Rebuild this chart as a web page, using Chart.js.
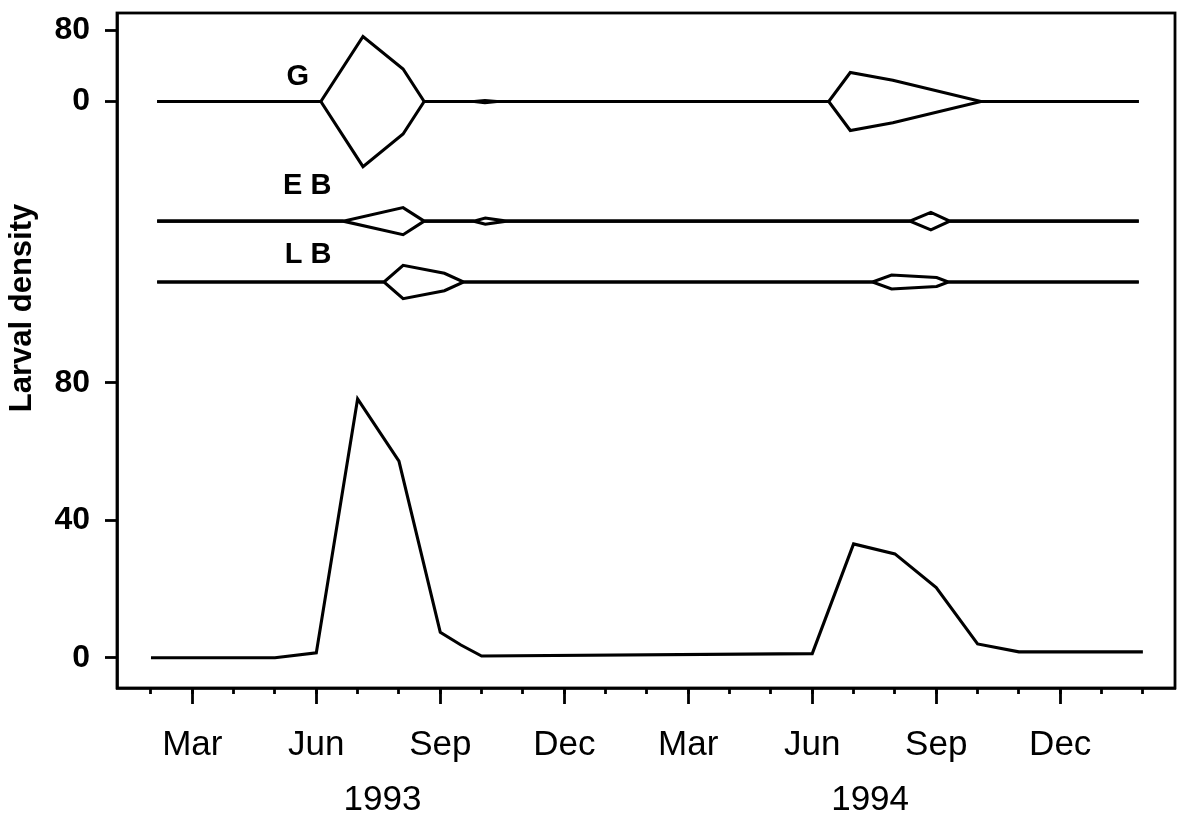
<!DOCTYPE html>
<html>
<head>
<meta charset="utf-8">
<script src="https://cdn.jsdelivr.net/npm/chart.js@4.4.1/dist/chart.umd.min.js"></script>
<style>
html,body{margin:0;padding:0;background:#fff;}
canvas{display:block;}
</style>
</head>
<body>
<canvas id="c" width="1179" height="825"></canvas>
<script>
// x values are months counted from January 1993 (= 0)

// Bottom panel: larval density line
const totalMonths = [1, 4, 5, 6, 7, 8, 8.5, 9, 17, 18, 19, 20, 21, 22, 25];
const totalValues = [0, 0, 1.4, 75.3, 57.2, 7.4, 3.7, 0.5, 1.2, 33.1, 30.2, 20.4, 4.0, 1.7, 1.7];

// Kite diagrams (half-width in density units)
const gMonths  = [1.15, 5.11, 6.13, 7.10, 7.61, 8.82, 9.08, 9.37, 17.40, 17.92, 18.95, 21.08, 24.9];
const gValues  = [0,    0,    73,   36.5, 0,    0,    1.2,  0,    0,     32.5,  23.8,  0,     0];

const ebMonths = [1.15, 5.65, 7.10, 7.61, 8.81, 9.09, 9.60, 19.36, 19.87, 20.33, 24.9];
const ebValues = [0,    0,    15.2, 0,    0,    3.5,  0,    0,     9.8,   0,     0];

const lbMonths = [1.15, 6.64, 7.10, 8.10, 8.56, 18.46, 18.92, 20.01, 20.29, 24.9];
const lbValues = [0,    0,    18.7, 9.8,  0,    0,     7.9,   5.0,   0,     0];

// Axis ticks and labels
const majorTickMonths = [2, 5, 8, 11, 14, 17, 20, 23];
const monthLabels = ['Mar', 'Jun', 'Sep', 'Dec', 'Mar', 'Jun', 'Sep', 'Dec'];
const minorTickMonths = [1,2,3,4,5,6,7,8,9,10,11,12,13,14,15,16,17,18,19,20,21,22,23,24,25];
const yearLabels = ['1993', '1994'];
const yearCentres = [6.6, 18.4];
const lowerTicks = [0, 40, 80];
const kiteTicks = [0, 80];
const kiteNames = ['G', 'E B', 'L B'];
const yTitle = 'Larval density';

// ---- layout constants (not data) ----
const KITE_SCALE = 0.2593;               // bottom-axis units per kite unit
const KITE_BASE = [161.8, 127.0, 109.3]; // G, EB, LB baselines in bottom-axis units
const KITE_LABEL_POS = [{x: 4.55, y: 169.0}, {x: 4.78, y: 137.1}, {x: 4.80, y: 117.1}];
const X_MIN = 0.178, X_MAX = 25.777;
const Y_MIN = -8.81, Y_MAX = 187.55;
const FONT = "'Liberation Sans', Arial, Helvetica, sans-serif";
const LW = 3.1;

const yTickValues = lowerTicks.concat(kiteTicks.map(t => KITE_BASE[0] + t * KITE_SCALE));
const yTickLabels = lowerTicks.concat(kiteTicks).map(String);

function pts(months, values) { return months.map((m, i) => ({x: m, y: values[i]})); }
function kite(months, values, base, sign) {
  return months.map((m, i) => ({x: m, y: base + sign * values[i] * KITE_SCALE}));
}

const lineStyle = {borderColor: '#000', borderWidth: LW, pointRadius: 0, tension: 0, fill: false, borderJoinStyle: 'miter'};

const datasets = [
  Object.assign({label: 'total', data: pts(totalMonths, totalValues)}, lineStyle),
  Object.assign({label: 'G+', data: kite(gMonths, gValues, KITE_BASE[0], 1)}, lineStyle),
  Object.assign({label: 'G-', data: kite(gMonths, gValues, KITE_BASE[0], -1)}, lineStyle),
  Object.assign({label: 'EB+', data: kite(ebMonths, ebValues, KITE_BASE[1], 1)}, lineStyle),
  Object.assign({label: 'EB-', data: kite(ebMonths, ebValues, KITE_BASE[1], -1)}, lineStyle),
  Object.assign({label: 'LB+', data: kite(lbMonths, lbValues, KITE_BASE[2], 1)}, lineStyle),
  Object.assign({label: 'LB-', data: kite(lbMonths, lbValues, KITE_BASE[2], -1)}, lineStyle)
];

const textPlugin = {
  id: 'texts',
  afterDraw(chart) {
    const ctx = chart.ctx, xs = chart.scales.x, ys = chart.scales.y, a = chart.chartArea;
    ctx.save();
    // frame
    ctx.strokeStyle = '#000';
    ctx.lineWidth = 2.8;
    ctx.strokeRect(a.left, a.top, a.right - a.left, a.bottom - a.top);
    ctx.fillStyle = '#000';
    ctx.textAlign = 'center';
    ctx.textBaseline = 'middle';
    // kite labels
    ctx.font = 'bold 29px ' + FONT;
    kiteNames.forEach((n, i) => {
      ctx.fillText(n, xs.getPixelForValue(KITE_LABEL_POS[i].x), ys.getPixelForValue(KITE_LABEL_POS[i].y));
    });
    // year labels
    ctx.font = '35px ' + FONT;
    yearLabels.forEach((t, i) => {
      ctx.fillText(t, xs.getPixelForValue(yearCentres[i]), 800);
    });
    // y title
    ctx.font = 'bold 31px ' + FONT;
    ctx.translate(22.5, 308);
    ctx.rotate(-Math.PI / 2);
    ctx.fillText(yTitle, 0, 0);
    ctx.restore();
  }
};

new Chart(document.getElementById('c'), {
  type: 'line',
  data: {datasets},
  plugins: [textPlugin],
  options: {
    responsive: false,
    animation: false,
    devicePixelRatio: 1,
    layout: {padding: {left: 0, top: 13, right: 4, bottom: 0}},
    plugins: {legend: {display: false}, tooltip: {enabled: false}},
    scales: {
      x: {
        type: 'linear', position: 'bottom', weight: 1, min: X_MIN, max: X_MAX,
        afterBuildTicks(s) { s.ticks = majorTickMonths.map(v => ({value: v})); },
        ticks: {callback: (v, i) => monthLabels[i], font: {family: FONT, size: 35}, color: '#000', padding: 20, maxRotation: 0, minRotation: 0, autoSkip: false},
        grid: {drawOnChartArea: false, drawTicks: true, tickLength: 16, tickWidth: 2.8, tickColor: '#000'},
        border: {display: true, color: '#000', width: 2.8},
        afterFit(s) { s.height = 137; s.paddingLeft = 0; s.paddingRight = 0; }
      },
      x2: {
        type: 'linear', position: 'bottom', weight: 0, min: X_MIN, max: X_MAX,
        afterBuildTicks(s) { s.ticks = minorTickMonths.map(v => ({value: v})); },
        ticks: {display: false, autoSkip: false},
        grid: {drawOnChartArea: false, drawTicks: true, tickLength: 6, tickWidth: 2.8, tickColor: '#000'},
        border: {display: false},
        afterFit(s) { s.height = 0; s.paddingLeft = 0; s.paddingRight = 0; }
      },
      y: {
        type: 'linear', position: 'left', min: Y_MIN, max: Y_MAX,
        afterBuildTicks(s) { s.ticks = yTickValues.map(v => ({value: v})); },
        ticks: {callback: (v, i) => yTickLabels[i], font: {family: FONT, size: 32, weight: 'bold'}, color: '#000', padding: 15, autoSkip: false},
        grid: {drawOnChartArea: false, drawTicks: true, tickLength: 12, tickWidth: 2.8, tickColor: '#000'},
        border: {display: true, color: '#000', width: 2.8},
        afterFit(s) { s.width = 117; s.paddingTop = 0; s.paddingBottom = 0; }
      }
    }
  }
});
</script>
</body>
</html>
